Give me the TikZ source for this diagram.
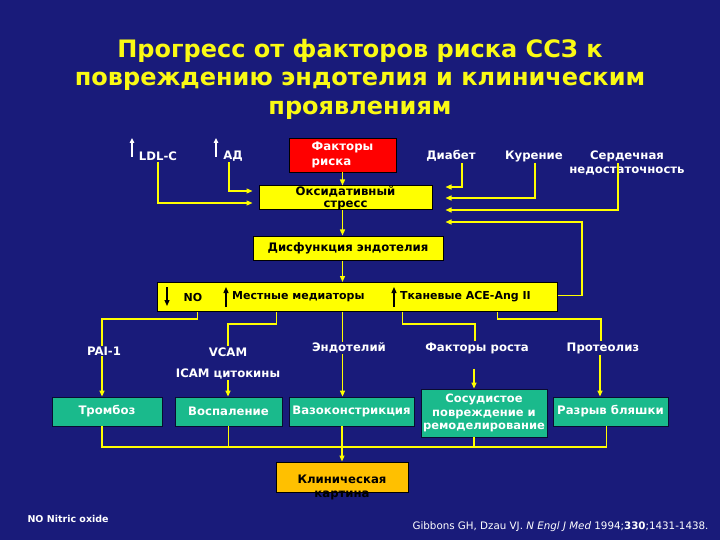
\documentclass[tikz,border=0pt]{standalone}
\usepackage{fontspec}
\setmainfont{DejaVu Sans}
\usetikzlibrary{calc,arrows.meta}
\definecolor{bgblue}{RGB}{25,27,122}
\definecolor{lineyellow}{RGB}{255,255,0}
\definecolor{boxyellow}{RGB}{255,255,0}
\definecolor{boxgreen}{RGB}{26,186,140}
\definecolor{boxorange}{RGB}{255,192,0}
\definecolor{boxred}{RGB}{255,0,0}
\definecolor{titlecol}{RGB}{250,250,20}
\newcommand{\lblfont}{\bfseries\fontsize{11.7}{13}\selectfont}
\newcommand{\bandfont}{\bfseries\fontsize{11}{13}\selectfont}
\begin{document}
\begin{tikzpicture}[x=1pt,y=-1pt,
  lbl/.style={text=white,font=\lblfont,inner sep=1pt},
  btxt/.style={text=black,font=\bandfont,inner sep=1pt},
  ttl/.style={text=titlecol,font=\bfseries\fontsize{24}{28.5}\selectfont,align=center},
  conn/.style={draw=lineyellow,line width=1.3pt},
  arr/.style={conn,-{Triangle[length=6pt,width=5pt]}},
  uparr/.style={draw=white,line width=1.2pt,-{Triangle[length=5pt,width=4.5pt]}},
  barr/.style={draw=black,line width=1.3pt,-{Triangle[length=6pt,width=5pt]}},
  ybox/.style={fill=boxyellow,draw=black,line width=1pt,inner sep=0pt,text=black,font=\lblfont,align=center},
  gbox/.style={fill=boxgreen,draw=black!60!bgblue,line width=0.8pt,inner sep=0pt,text=white,font=\lblfont,align=center},
  redbox/.style={fill=boxred,draw=black,line width=0.8pt,inner sep=0pt,text=white,align=left,font=\bfseries\fontsize{11.8}{15}\selectfont},
  obox/.style={fill=boxorange,draw=black,line width=1pt,inner sep=0pt}
]
\fill[bgblue] (0,0) rectangle (720,540);
\useasboundingbox (0,0) rectangle (720,540);

\node[ttl] (title) at (360,79) {Прогресс от факторов риска ССЗ к\\повреждению эндотелия и клиническим\\проявлениям};

% top row
\node[lbl] (ldl) at (158,156) {LDL-C};
\node[lbl] (ad) at (233,156) {АД};
\node[redbox,minimum width=107pt,minimum height=34pt] (risk) at (342.5,155) {Факторы\\риска};
\node[lbl] (diab) at (451,156) {Диабет};
\node[lbl] (kur) at (534,156) {Курение};
\node[lbl,align=center,font=\bfseries\fontsize{11.7}{14}\selectfont] (heart) at (627,163) {Сердечная\\недостаточность};
\coordinate (ua1) at (132,157);
\draw[uparr] (ua1) -- ++(0,-19);
\coordinate (ua2) at (216,157);
\draw[uparr] (ua2) -- ++(0,-19);

% boxes
\node[ybox,minimum width=173pt,minimum height=24pt,font=\bfseries\fontsize{11.7}{12.5}\selectfont] (ox) at (345.5,198) {Оксидативный\\стресс};
\node[ybox,minimum width=190pt,minimum height=24pt] (dys) at (348,248) {Дисфункция эндотелия};
\node[ybox,minimum width=400pt,minimum height=29pt] (band) at (357,297) {};
\node[btxt] (no) at (193,297) {NO};
\node[btxt,anchor=west] (med) at (231,297) {Местные медиаторы};
\node[btxt,anchor=west] (tk) at (399,297) {Тканевые ACE-Ang II};
\coordinate (ba1) at (167,287);
\draw[barr] (ba1) -- ++(0,19);
\coordinate (ba2) at (226,307);
\draw[barr] (ba2) -- ++(0,-20);
\coordinate (ba3) at (394,307);
\draw[barr] (ba3) -- ++(0,-20);

% inputs to oxidative stress
\coordinate (oxl) at ($(ox.west)+(-6,0)$);
\coordinate (oxr) at ($(ox.east)+(13,0)$);
\draw[arr] (ldl.south) |- ($(oxl)+(0,5)$);
\draw[arr] ([xshift=-4pt]ad.south) |- ($(oxl)+(0,-7)$);
\draw[arr] (risk.south) -- (risk.south |- ox.north);
\draw[arr] ([xshift=11pt]diab.south) |- ($(oxr)+(0,-11)$);
\draw[arr] ([xshift=1pt]kur.south) |- (oxr);
\draw[arr] ([xshift=-9pt]heart.center) |- ($(oxr)+(0,12)$);
\coordinate (fb) at (582,222);
\draw[arr] ([yshift=1.5pt]band.east) -| (fb) -- (fb -| oxr);

\draw[arr] (ox.south -| risk.south) -- (dys.north -| risk.south);
\draw[arr] (dys.south -| risk.south) -- (band.north -| risk.south);

% second row labels
\node[lbl] (pai) at (104,351) {PAI-1};
\node[lbl] (vcam) at (228,352) {VCAM};
\node[lbl] (icam) at (228,374) {ICAM цитокины};
\node[lbl] (endo) at (349,348) {Эндотелий};
\node[lbl] (fr) at (477,348) {Факторы роста};
\node[lbl] (prot) at (603,348) {Протеолиз};

\draw[conn] ($(band.south west)+(41,0)$) -- ++(0,7) -| ([xshift=-2pt]pai.north);
\draw[conn] ($(band.south west)+(120,0)$) -- ++(0,12) -| (vcam.north);
\draw[conn] (band.south -| risk.south) -- (risk.south |- endo.north);
\draw[conn] ($(band.south west)+(246,0)$) -- ++(0,12) -| ([xshift=-2pt]fr.north);
\draw[conn] ($(band.south west)+(341,0)$) -- ++(0,7) -| ([xshift=-2pt]prot.north);

% green boxes
\node[gbox,minimum width=110pt,minimum height=29pt] (tromb) at (107,411.5) {Тромбоз};
\node[gbox,minimum width=107pt,minimum height=29pt] (vosp) at (228.5,411.5) {Воспаление};
\node[gbox,minimum width=125pt,minimum height=29pt] (vaso) at (351.5,411.5) {Вазоконстрикция};
\node[gbox,minimum width=126pt,minimum height=48pt,font=\bfseries\fontsize{11.5}{13.5}\selectfont] (sos) at (484,413) {Сосудистое\\повреждение и\\ремоделирование};
\node[gbox,minimum width=115pt,minimum height=29pt] (razr) at (610.5,411.5) {Разрыв бляшки};

\draw[arr] ([xshift=-2pt]pai.south) -- ([xshift=-2pt]pai.south |- tromb.north);
\draw[arr] (icam.south) -- (icam.south |- vosp.north);
\draw[arr] (endo.south -| risk.south) -- (vaso.north -| risk.south);
\draw[arr] ($(fr.south)+(-3,14)$) -- ($(fr.south |- sos.north)+(-3,0)$);
\draw[arr] ([xshift=-3pt]prot.south) -- ([xshift=-3pt]prot.south |- razr.north);

% bottom bus
\node[obox,minimum width=132pt,minimum height=30pt] (klin) at (342,477) {};
\node[btxt,align=center,font=\bfseries\fontsize{11.7}{14}\selectfont] (klintxt) at (342,487) {Клиническая\\картина};
\coordinate (bus) at (342,447);
\draw[conn] ([xshift=-5pt]tromb.south) |- ([xshift=-4pt]razr.south |- bus) -- ([xshift=-4pt]razr.south);
\draw[conn] (vosp.south) -- (vosp.south |- bus);
\draw[conn] (vaso.south -| bus) -- (bus);
\draw[conn] ([xshift=-10pt]sos.south) -- ([xshift=-10pt]sos.south |- bus);
\draw[arr] (bus) -- (bus |- klin.north);

% footnotes
\node[text=white,font=\bfseries\fontsize{9.5}{11}\selectfont,anchor=west] (fn) at (24,519) {NO Nitric oxide};
\node[text=white,font=\fontsize{10.3}{12}\selectfont,anchor=east] (cite) at (712,527) {Gibbons GH, Dzau VJ. \textit{N Engl J Med} 1994;\textbf{330};1431-1438.};
\end{tikzpicture}
\end{document}
